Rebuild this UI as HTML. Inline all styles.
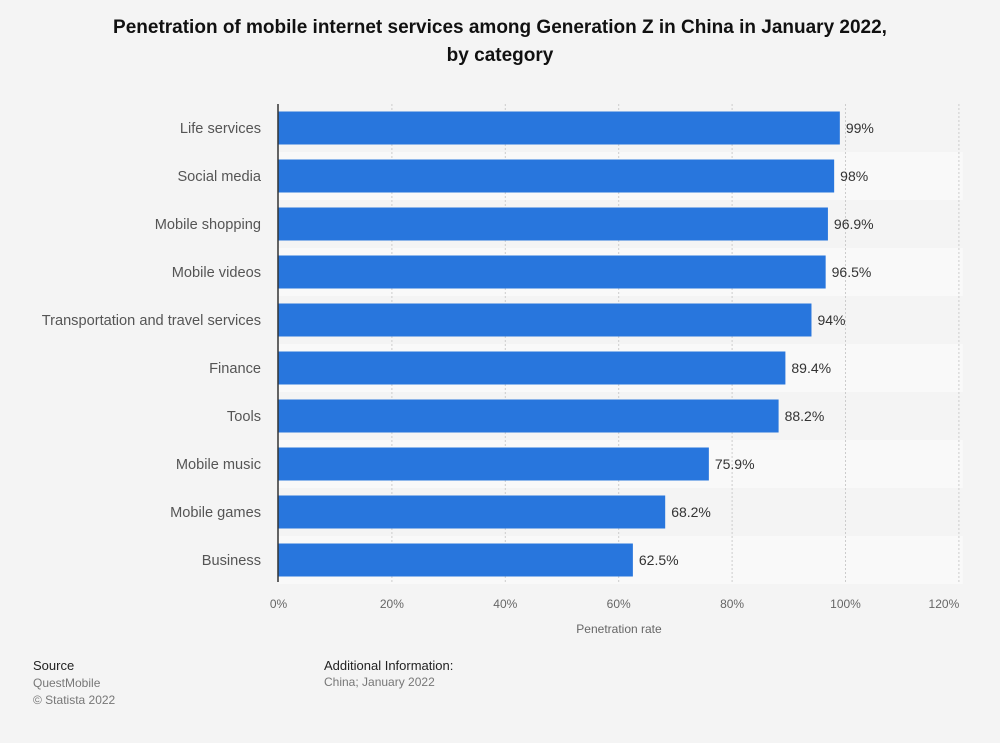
<!DOCTYPE html>
<html><head><meta charset="utf-8"><style>
body{margin:0;background:#f4f4f4;font-family:"Liberation Sans",sans-serif;}
#wrap{position:relative;width:1000px;height:743px;overflow:hidden;background:#f4f4f4}
.t{position:absolute;white-space:nowrap}
</style></head><body>
<div id="wrap">
<div class="t" style="left:0;width:1000px;top:14px;text-align:center;font-weight:bold;font-size:19px;line-height:28px;color:#111">Penetration of mobile internet services among Generation Z in China in January 2022,<br>by category</div>
<svg id="chart" width="1000" height="743" style="position:absolute;left:0;top:0"></svg>
<div class="t" style="left:33px;top:658px;font-size:13px;color:#222">Source</div>
<div class="t" style="left:33px;top:675px;font-size:12px;color:#777;line-height:17px">QuestMobile<br>© Statista 2022</div>
<div class="t" style="left:324px;top:658px;font-size:13px;color:#222">Additional Information:</div>
<div class="t" style="left:324px;top:675px;font-size:12px;color:#777">China; January 2022</div>
</div>
<script>
const categories=["Life services","Social media","Mobile shopping","Mobile videos","Transportation and travel services","Finance","Tools","Mobile music","Mobile games","Business"];
const values=[99,98,96.9,96.5,94,89.4,88.2,75.9,68.2,62.5];
const valueLabels=["99%","98%","96.9%","96.5%","94%","89.4%","88.2%","75.9%","68.2%","62.5%"];
const ticks=[0,20,40,60,80,100,120];
const NS="http://www.w3.org/2000/svg";
const svg=document.getElementById('chart');
const x0=278.5,scale=5.67,top0=104,rowH=48;
const x=v=>x0+v*scale;
const yRow=i=>top0+i*rowH;
function mk(t,a){const e=document.createElementNS(NS,t);for(const k in a)e.setAttribute(k,a[k]);svg.appendChild(e);return e;}
categories.forEach((c,i)=>{if(i%2==1){const r=mk('rect',{x:x0,y:yRow(i),width:x(120)-x0+4,height:rowH,fill:'#f9f9f9'});

}});
ticks.forEach((t,k)=>{if(t>0){const l=mk('line',{x1:x(t),x2:x(t),y1:top0,y2:582,stroke:'#ccc','stroke-dasharray':'2,2'});

}
const last=k==ticks.length-1;
const tx=mk('text',{x:last?x(t)-15:x(t),y:608,'text-anchor':'middle','font-size':12,fill:'#666'});tx.textContent=t+'%';

});
categories.forEach((c,i)=>{const cy=yRow(i)+24;
const b=mk('rect',{x:x0,y:cy-16.5,width:x(values[i])-x0,height:33,fill:'#2876dd'});


const lb=mk('text',{x:261,y:cy+5,'text-anchor':'end','font-size':14.6,fill:'#555'});lb.textContent=c;


const v=mk('text',{x:x(values[i])+6,y:cy+5,'font-size':14,fill:'#333'});v.textContent=valueLabels[i];

});
const ax=mk('line',{x1:278,x2:278,y1:top0,y2:582,stroke:'#333','stroke-width':1.5});


const at=mk('text',{x:619,y:633,'text-anchor':'middle','font-size':12,fill:'#666'});at.textContent='Penetration rate';


</script>
</body></html>
